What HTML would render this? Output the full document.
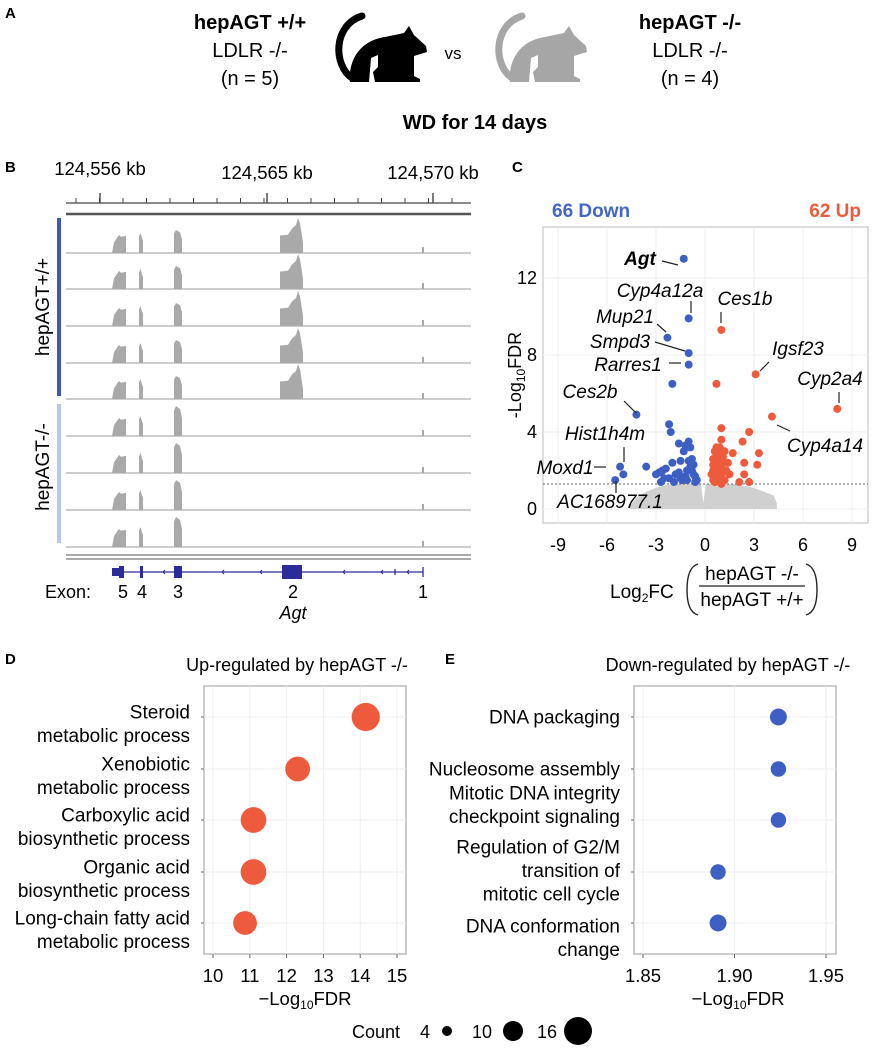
<!DOCTYPE html>
<html><head><meta charset="utf-8"><style>
body{margin:0;background:#fff;}
svg{display:block;font-family:"Liberation Sans",Arial,sans-serif;}
</style></head><body>
<svg id="fig" width="877" height="1050" viewBox="0 0 877 1050" xmlns="http://www.w3.org/2000/svg">
<g>
<text x="5" y="18" font-size="15" font-weight="bold">A</text>
<text x="250" y="29" font-size="20" font-weight="bold" text-anchor="middle">hepAGT +/+</text>
<text x="250" y="57" font-size="20" text-anchor="middle">LDLR -/-</text>
<text x="250" y="85" font-size="20" text-anchor="middle">(n = 5)</text>
<text x="690" y="29" font-size="20" font-weight="bold" text-anchor="middle">hepAGT -/-</text>
<text x="690" y="57" font-size="20" text-anchor="middle">LDLR -/-</text>
<text x="690" y="85" font-size="20" text-anchor="middle">(n = 4)</text>
<text x="453" y="59" font-size="17" text-anchor="middle">vs</text>
<text x="475" y="129" font-size="20" font-weight="bold" text-anchor="middle">WD for 14 days</text>
<g>
<path d="M352,78 C333,65 333,25 362,16" fill="none" stroke="#000" stroke-width="7" stroke-linecap="round"/>
<path d="M350,82 C348,58 362,40 385,37 L404,33 L409,26 L414,35 L426,46 L427,52 L414,56 L414,76 L420,79 L420,82 Z" fill="#000"/>
<path d="M371,58 L378,55 L378,67 L373,72 L375,82 L369,82 Z" fill="#fff"/>
</g>
<g transform="translate(160,0)">
<path d="M352,78 C333,65 333,25 362,16" fill="none" stroke="#a6a6a6" stroke-width="7" stroke-linecap="round"/>
<path d="M350,82 C348,58 362,40 385,37 L404,33 L409,26 L414,35 L426,46 L427,52 L414,56 L414,76 L420,79 L420,82 Z" fill="#a6a6a6"/>
<path d="M371,58 L378,55 L378,67 L373,72 L375,82 L369,82 Z" fill="#fff"/>
</g>
</g>

<text x="5" y="172" font-size="15" font-weight="bold">B</text>
<text x="512" y="172" font-size="15" font-weight="bold">C</text>
<text x="5" y="664" font-size="15" font-weight="bold">D</text>
<text x="445" y="664" font-size="15" font-weight="bold">E</text>

<g id="panelB"></g>
<g id="panelC"></g>
<g id="panelD"></g>
<g id="panelE"></g>
<g>
<text x="352" y="1038" font-size="18">Count</text>
<text x="420" y="1038" font-size="18">4</text>
<circle cx="447" cy="1031" r="5" fill="#000"/>
<text x="472" y="1038" font-size="18">10</text>
<circle cx="513" cy="1031" r="10" fill="#000"/>
<text x="537" y="1038" font-size="18">16</text>
<circle cx="578" cy="1031" r="14" fill="#000"/>
</g>
</svg>
<script>
const NS='http://www.w3.org/2000/svg';
function mk(parent,tag,attrs,text){const e=document.createElementNS(NS,tag);for(const k in attrs)e.setAttribute(k,attrs[k]);if(text!==undefined)e.textContent=text;parent.appendChild(e);return e;}

/* ---------- Panel B data ---------- */
const bMajorLabels=['124,556 kb','124,565 kb','124,570 kb'];
const wtExonHeights=[18,20,23,35,6];
const koExonHeights=[18,20,30,1,6];
const trackGroups=['wt','wt','wt','wt','wt','ko','ko','ko','ko'];
const exonNames=['5','4','3','2','1'];

const B=document.getElementById('panelB');
mk(B,'line',{x1:66,y1:203,x2:471,y2:203,stroke:'#444','stroke-width':1.2});
const minorXs=[];
for(let i=-1;i<=16;i++){const x=76+i*23.5; if(x>=66&&x<=471) minorXs.push(x);}
minorXs.forEach(x=>{const t=mk(B,'line',{x1:x,y1:203,x2:x,y2:198,stroke:'#444','stroke-width':1});
});
[100,267,433].forEach((x,i)=>{
const t=mk(B,'line',{x1:x,y1:203,x2:x,y2:193,stroke:'#444','stroke-width':1.4});

const l=mk(B,'text',{x:x,y:[175,179,179][i],'font-size':18.5,'text-anchor':'middle'},bMajorLabels[i]);
});
mk(B,'line',{x1:66,y1:214,x2:471,y2:214,stroke:'#555','stroke-width':2.5});
const baselines=[253,289,326,363,399,436,473,510,547];
const exonSpans=[[112,126],[139,143],[174,182],[280,303],[422,424]];
trackGroups.forEach((g,i)=>{
  const yb=baselines[i];const hs=g==='wt'?wtExonHeights:koExonHeights;
  const tr=mk(B,'g',{});
  mk(tr,'line',{x1:66,y1:yb,x2:471,y2:yb,stroke:'#999','stroke-width':1});
  exonSpans.forEach((s,j)=>{
    const h=hs[j];const [x0,x1]=s;let d;
    if(j===0) d=`M${x0},${yb} L${x0+2},${yb-h*0.6} L${x0+5},${yb-h*0.85} L${x0+7},${yb-h} L${x0+9},${yb-h*0.9} L${x1},${yb-h*0.95} L${x1},${yb} Z`;
    else if(j===3) d=`M${x0},${yb} L${x0},${yb-h*0.5} L${x0+8},${yb-h*0.52} L${x0+12},${yb-h*0.7} L${x0+16},${yb-h*0.8} L${x0+18},${yb-h} L${x0+20},${yb-h*0.85} L${x1},${yb-h*0.3} L${x1},${yb} Z`;
    else if(j===4) d=`M${x0},${yb} L${x0},${yb-h} L${x1},${yb-h} L${x1},${yb} Z`;
    else d=`M${x0},${yb} L${x0},${yb-h*0.85} L${x0+2},${yb-h} L${x1-2},${yb-h*0.9} L${x1},${yb-h*0.6} L${x1},${yb} Z`;
    if(h>1) mk(tr,'path',{d:d,fill:'#a9a9a9'});
  });
});
mk(B,'rect',{x:57,y:218,width:4,height:178,fill:'#3f57b5'});
mk(B,'rect',{x:57,y:404,width:4,height:139,fill:'#b8c6ea'});
mk(B,'text',{x:0,y:0,'font-size':19,'text-anchor':'middle',transform:'translate(49,307) rotate(-90)'},'hepAGT+/+');
mk(B,'text',{x:0,y:0,'font-size':19,'text-anchor':'middle',transform:'translate(49,467) rotate(-90)'},'hepAGT-/-');
mk(B,'line',{x1:66,y1:555,x2:471,y2:555,stroke:'#777','stroke-width':1.2});
mk(B,'line',{x1:66,y1:559,x2:471,y2:559,stroke:'#777','stroke-width':1.2});
const gm=mk(B,'g',{});
mk(gm,'line',{x1:112,y1:572,x2:423,y2:572,stroke:'#2b2b9c','stroke-width':1.3});
mk(gm,'rect',{x:112,y:568,width:8,height:8,fill:'#2b2b9c'});
mk(gm,'rect',{x:119,y:566,width:5,height:12,fill:'#2b2b9c'});
mk(gm,'rect',{x:140,y:566,width:3,height:12,fill:'#2b2b9c'});
mk(gm,'rect',{x:174,y:566,width:8,height:12,fill:'#2b2b9c'});
mk(gm,'rect',{x:282,y:565,width:20,height:14,fill:'#2b2b9c'});
mk(gm,'line',{x1:423,y1:567,x2:423,y2:577,stroke:'#2b2b9c','stroke-width':1.3});
mk(gm,'line',{x1:395,y1:569,x2:395,y2:575,stroke:'#2b2b9c','stroke-width':1.3});
[163,222,260,343,381,407].forEach(x=>mk(gm,'path',{d:`M${x+2},570 L${x},572 L${x+2},574`,stroke:'#2b2b9c',fill:'none','stroke-width':1}));
mk(B,'text',{x:45,y:598,'font-size':18},'Exon:');
const exonLabelX=[123,142,178,293,423];
exonNames.forEach((n,i)=>{const t=mk(B,'text',{x:exonLabelX[i],y:598,'font-size':18,'text-anchor':'middle'},n);
});
mk(B,'text',{x:293,y:619,'font-size':18,'font-style':'italic','text-anchor':'middle'},'Agt');

/* ---------- Panel C volcano ---------- */
const downFC=[-1.3,-1.0,-2.3,-1.0,-1.0,-2.0,-4.2,-2.2,-2.1,-5.2,-5.0,-5.5,-3.6,-3.0,-2.8,-2.6,-2.4,-2.0,-1.8,-1.6,-1.5,-1.3,-1.2,-1.0,-0.9,-0.8,-0.7,-0.6,-1.1,-1.4,-1.6,-2.2,-2.7,-0.9,-0.5,-1.2,-1.0,-0.8,-1.9,-1.5,-0.7,-1.1,-2.5,-0.6];
const downP =[13.0,9.9,8.9,8.1,7.5,6.5,4.9,4.4,4.0,2.2,1.8,1.5,2.2,1.8,1.9,2.0,2.1,2.4,1.8,3.4,2.5,3.0,3.3,3.5,3.2,2.6,1.8,1.7,2.0,1.5,1.9,1.6,1.4,2.2,1.5,1.7,2.5,2.0,1.4,1.6,2.3,1.5,1.6,1.4];
const upFC=[1.0,0.7,3.1,8.1,4.1,1.0,1.0,2.7,2.3,3.3,1.7,2.4,3.2,1.5,2.4,2.1,2.7,0.5,0.6,0.7,0.8,0.9,1.0,1.1,1.2,0.5,0.6,0.7,0.8,0.9,1.0,1.1,0.5,0.6,0.8,1.0,1.3,0.6,0.7,0.9,1.2,0.4,0.5,0.8,1.4,0.6,0.9,1.1,0.7,1.0];
const upP =[9.3,6.5,7.0,5.2,4.8,4.2,3.6,4.0,3.5,2.9,2.9,2.4,2.3,1.8,1.8,1.4,1.4,1.5,1.7,1.9,2.1,2.3,2.5,2.7,3.0,2.0,2.4,2.8,3.1,3.2,2.2,1.9,2.6,3.0,1.6,1.6,2.0,2.2,1.5,1.8,1.5,1.8,2.3,2.6,2.4,1.4,2.0,2.9,3.2,1.3];
const cloudFC =[-4.6,-4.2,-3.6,-3.0,-2.4,-1.8,-1.2,-0.6,-0.25,-0.1,0.05,0.25,0.6,1.2,1.8,2.4,3.0,3.6,4.2,4.4];
const cloudTop=[0.15,0.6,0.9,1.1,1.25,1.3,1.3,1.3,1.3,0.3,1.3,1.3,1.3,1.3,1.3,1.2,1.1,0.9,0.7,0.3];
const xTicksC=[-9,-6,-3,0,3,6,9];
const yTicksC=[0,4,8,12];
const sigThreshold=1.3;
const labelsC=[
 {t:'Agt',tx:640,ty:265,bold:1,lx1:662,ly1:261,lx2:678,ly2:265},
 {t:'Cyp4a12a',tx:660,ty:297,lx1:691,ly1:301,lx2:691,ly2:313},
 {t:'Ces1b',tx:745,ty:305,lx1:721,ly1:312,lx2:721,ly2:323},
 {t:'Mup21',tx:625,ty:323,lx1:657,ly1:324,lx2:666,ly2:332},
 {t:'Smpd3',tx:620,ty:348,lx1:655,ly1:342,lx2:685,ly2:351},
 {t:'Rarres1',tx:628,ty:371,lx1:669,ly1:363,lx2:681,ly2:363},
 {t:'Ces2b',tx:590,ty:398,lx1:624,ly1:401,lx2:636,ly2:413},
 {t:'Igsf23',tx:798,ty:355,lx1:760,ly1:371,lx2:769,ly2:362},
 {t:'Cyp2a4',tx:830,ty:385,lx1:839,ly1:392,lx2:839,ly2:403},
 {t:'Cyp4a14',tx:825,ty:452,lx1:777,ly1:425,lx2:790,ly2:431},
 {t:'Hist1h4m',tx:605,ty:440,lx1:624,ly1:447,lx2:624,ly2:462},
 {t:'Moxd1',tx:565,ty:474,lx1:594,ly1:467,lx2:606,ly2:467},
 {t:'AC168977.1',tx:610,ty:508,lx1:616,ly1:481,lx2:616,ly2:493}
];
const C=document.getElementById('panelC');
const cx=v=>705+v*16.33, cy=v=>509-v*19.25;
mk(C,'rect',{x:543,y:227,width:325,height:296,fill:'#fff',stroke:'#bbb','stroke-width':1});
xTicksC.forEach(v=>{const g=mk(C,'line',{x1:cx(v),y1:227,x2:cx(v),y2:523,stroke:'#eee','stroke-width':1});
 const t=mk(C,'text',{x:cx(v),y:551,'font-size':18,'text-anchor':'middle'},String(v));});
yTicksC.forEach(v=>{const g=mk(C,'line',{x1:543,y1:cy(v),x2:868,y2:cy(v),stroke:'#eee','stroke-width':1});
 const t=mk(C,'text',{x:537,y:cy(v)+6,'font-size':18,'text-anchor':'end'},String(v));});
let cd=`M${cx(cloudFC[0])},${cy(0)}`;cloudFC.forEach((v,i)=>{cd+=` L${cx(v)},${cy(cloudTop[i])}`;});cd+=` L${cx(cloudFC[cloudFC.length-1])},${cy(0)} Z`;
const cl=mk(C,'path',{d:cd,fill:'#d0d0d0'});
mk(C,'line',{x1:543,y1:cy(sigThreshold),x2:868,y2:cy(sigThreshold),stroke:'#666','stroke-width':1,'stroke-dasharray':'2,2'});
downFC.forEach((v,i)=>{const p=mk(C,'circle',{cx:cx(v),cy:cy(downP[i]),r:4,fill:'#3d5fc4'});});
upFC.forEach((v,i)=>{const p=mk(C,'circle',{cx:cx(v),cy:cy(upP[i]),r:4,fill:'#ee5a3c'});});
labelsC.forEach(l=>{const t=mk(C,'text',{x:l.tx,y:l.ty,'font-size':19,'font-style':'italic','text-anchor':'middle','font-weight':l.bold?'bold':'normal'},l.t);
 
 mk(C,'line',{x1:l.lx1,y1:l.ly1,x2:l.lx2,y2:l.ly2,stroke:'#222','stroke-width':1.2});});
mk(C,'text',{x:552,y:217,'font-size':19,'font-weight':'bold',fill:'#4466c4'},'66 Down');
mk(C,'text',{x:861,y:217,'font-size':19,'font-weight':'bold',fill:'#ee5a3c','text-anchor':'end'},'62 Up');
const yl=mk(C,'text',{x:0,y:0,'font-size':18,'text-anchor':'middle',transform:'translate(521,375) rotate(-90)'});

yl.innerHTML='-Log<tspan font-size="12" dy="4">10</tspan><tspan dy="-4">FDR</tspan>';
const xl=mk(C,'text',{x:610,y:598,'font-size':19});
xl.innerHTML='Log<tspan font-size="12" dy="4">2</tspan><tspan dy="-4">FC</tspan>';
mk(C,'path',{d:'M698,564 Q687,567 687,590 Q687,612 698,615',fill:'none',stroke:'#222','stroke-width':1.4});
mk(C,'path',{d:'M806,564 Q817,567 817,590 Q817,612 806,615',fill:'none',stroke:'#222','stroke-width':1.4});
mk(C,'text',{x:752,y:580,'font-size':19,'text-anchor':'middle'},'hepAGT -/-');
mk(C,'line',{x1:699,y1:586,x2:805,y2:586,stroke:'#222','stroke-width':1.3});
mk(C,'text',{x:752,y:606,'font-size':19,'text-anchor':'middle'},'hepAGT +/+');

/* ---------- Panels D and E ---------- */
const upTerms=[['Steroid','metabolic process'],['Xenobiotic','metabolic process'],['Carboxylic acid','biosynthetic process'],['Organic acid','biosynthetic process'],['Long-chain fatty acid','metabolic process']];
const upFDR=[14.15,12.3,11.1,11.1,10.87];
const upCount=[16,12,13,13,11];
const downTerms=[['DNA packaging'],['Nucleosome assembly'],['Mitotic DNA integrity','checkpoint signaling'],['Regulation of G2/M','transition of','mitotic cell cycle'],['DNA conformation','change']];
const downFDR=[1.924,1.924,1.924,1.891,1.891];
const downCount=[5,4,4,4,5];
const upTicks=[10,11,12,13,14,15];
const downTicks=[1.85,1.90,1.95];
const rowY=[717,769,820,872,923];
const rScale=c=>1.3+Math.sqrt(c)*3.2;

function dotPanel(G,o){
 const sx=v=>o.x0+(v-o.t0)*o.k;
 mk(G,'rect',{x:o.fx,y:686,width:o.fw,height:268,fill:'#fff',stroke:'#aaa','stroke-width':1.2});
 o.ticks.forEach(v=>{const g=mk(G,'line',{x1:sx(v),y1:686,x2:sx(v),y2:954,stroke:'#eee','stroke-width':1});
  mk(G,'line',{x1:sx(v),y1:954,x2:sx(v),y2:958,stroke:'#666'});
  const t=mk(G,'text',{x:sx(v),y:982,'font-size':18.5,'text-anchor':'middle'},o.fmt(v));});
 rowY.forEach(y=>{mk(G,'line',{x1:o.fx,y1:y,x2:o.fx+o.fw,y2:y,stroke:'#eee'});mk(G,'line',{x1:o.fx-3,y1:y,x2:o.fx,y2:y,stroke:'#666'});});
 o.terms.forEach((lines,i)=>{const st=rowY[i]+o.off[i];
  lines.forEach((s,j)=>{const t=mk(G,'text',{x:o.fx-14,y:st+j*23.4+6.5,'font-size':19,'text-anchor':'end'},s);});});
 o.vals.forEach((v,i)=>{const c=mk(G,'circle',{cx:sx(v),cy:rowY[i],r:rScale(o.counts[i]),fill:o.col});});
 const tt=mk(G,'text',{x:o.tx,y:671,'font-size':18,'text-anchor':'middle'},o.title);
 const xl=mk(G,'text',{x:o.tx2,y:1005,'font-size':18.5,'text-anchor':'middle'});
 xl.innerHTML='\u2212Log<tspan font-size="12" dy="4">10</tspan><tspan dy="-4">FDR</tspan>';
}
dotPanel(document.getElementById('panelD'),{fx:204,fw:202,x0:213,t0:10,k:36.8,ticks:upTicks,fmt:v=>String(v),terms:upTerms,vals:upFDR,counts:upCount,col:'#ee5a3c',title:'Up-regulated by hepAGT -/-',tx:297,tx2:305,off:[-5,-5,-5,-5,-5]});
dotPanel(document.getElementById('panelE'),{fx:634,fw:202,x0:643,t0:1.85,k:1830,ticks:downTicks,fmt:v=>v.toFixed(2),terms:downTerms,vals:downFDR,counts:downCount,col:'#3d5fc4',title:'Down-regulated by hepAGT -/-',tx:728,tx2:738,off:[0,0,-27,-25,3]});
</script>
</body></html>
